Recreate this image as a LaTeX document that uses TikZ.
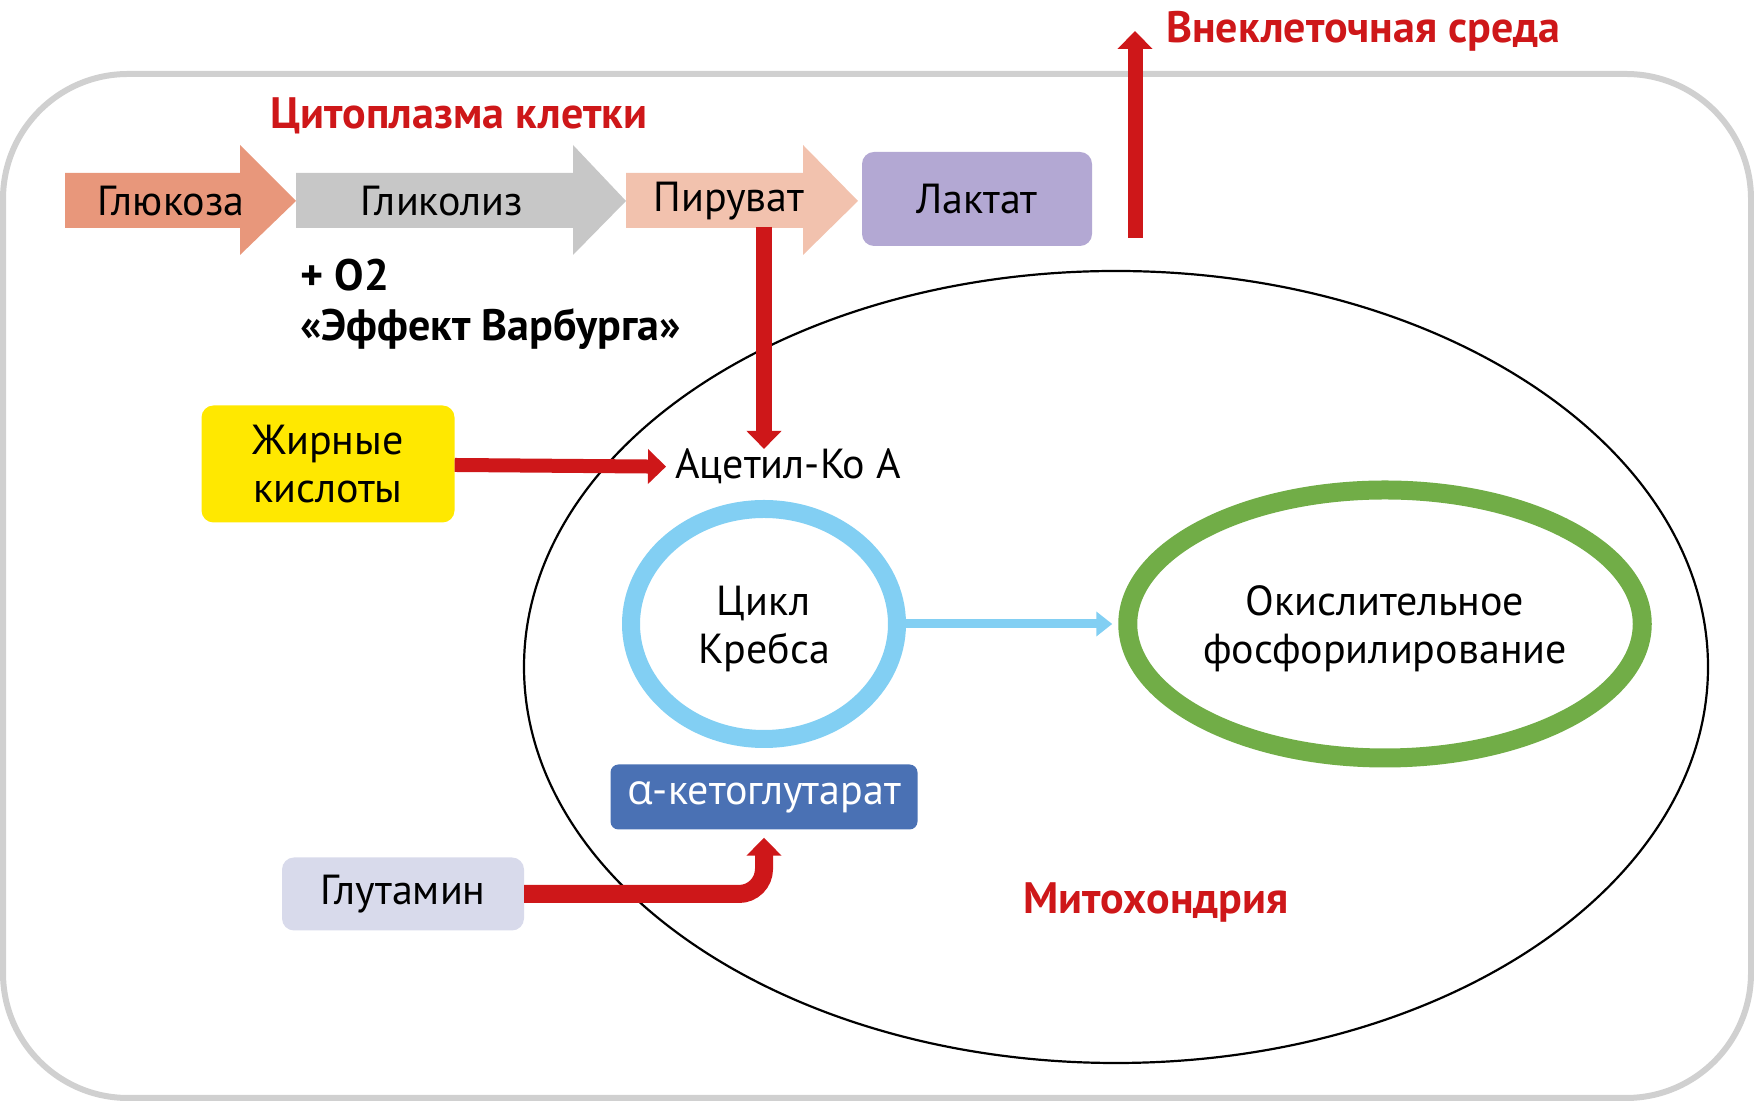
\documentclass[tikz,border=0pt]{standalone}
\usepackage{fontspec}
\setmainfont{PT Sans}
\newfontfamily\grkfont{Open Sans}
\usetikzlibrary{positioning}
\usetikzlibrary{shapes.geometric}
\usetikzlibrary{arrows.meta}
\definecolor{cellred}{HTML}{CE1719}
\definecolor{cellgray}{HTML}{D0D0D0}
\definecolor{glcol}{HTML}{E8977B}
\definecolor{glycol}{HTML}{C7C7C7}
\definecolor{pyrcol}{HTML}{F2C2AE}
\definecolor{laccol}{HTML}{B3A8D3}
\definecolor{fatcol}{HTML}{FFE800}
\definecolor{krebscol}{HTML}{82CFF3}
\definecolor{oxcol}{HTML}{71AD47}
\definecolor{kgcol}{HTML}{4A71B4}
\definecolor{glutcol}{HTML}{D8DAEB}
\tikzset{
	txt/.style={inner sep=0pt,align=center,font=\fontsize{42}{48}\selectfont},
	box/.style={txt,rounded corners=12pt},
	title/.style={inner sep=0pt,text=cellred,font=\fontsize{44}{50}\selectfont\bfseries},
	redarrow/.style={draw=cellred,line width=16pt,-{Triangle[length=18pt,width=34pt]}},
	bluearrow/.style={draw=krebscol,line width=9pt,-{Triangle[length=16pt,width=24pt]}},
}
\begin{document}
\begin{tikzpicture}[x=1pt,y=1pt]
	\useasboundingbox (0,0) rectangle (1754,1102);
	\draw[cellgray,line width=6pt,rounded corners=125pt] (3,4) rectangle (1751,1028);
	\node[ellipse,draw,line width=2.2pt,minimum width=1184pt,minimum height=792pt] (mito) at (1116,435) {};
	
	\fill[glcol] (65,874) -- (240,874) -- (240,847) -- (296,901) -- (240,957) -- (240,929) -- (65,929) -- cycle;
	\fill[glycol] (296,874) -- (573,874) -- (573,847) -- (626,901) -- (573,957) -- (573,929) -- (296,929) -- cycle;
	\fill[pyrcol] (626,874) -- (803,874) -- (803,847) -- (858,901) -- (803,957) -- (803,929) -- (626,929) -- cycle;
	\node[txt] (glc) at (171,901) {Глюкоза};
	\node[txt] (glyc) at (442,901) {Гликолиз};
	\node[txt] (pyr) at (729,901) {Пируват};
	\node[box,fill=laccol,minimum width=230pt,minimum height=94pt] (lac) at (977,903) {Лактат};
	
	\node[title] (cyto) at (459,986) {Цитоплазма клетки};
	\node[title,anchor=west] (ecm) at (1166,1071) {Внеклеточная среда};
	\node[txt,font=\fontsize{44}{50}\selectfont\bfseries,align=left,anchor=west] (warb) at (300,798) {+ O2\\«Эффект Варбурга»};
	\coordinate (lacb) at (1135,864);
	\draw[redarrow,line width=15pt] (lacb) -- (lacb |- ecm);
	
	\node[txt,anchor=base west] (acetyl) at (675,623) {Ацетил-Ко А};
	\coordinate (pyrb) at (764,875);
	\draw[redarrow] (pyrb) -- (pyrb |- acetyl.north);
	\node[box,fill=fatcol,minimum width=253pt,minimum height=117pt] (fat) at (328,638) {Жирные\\кислоты};
	\draw[redarrow,line width=14pt,shorten >=9pt] (fat) -- (acetyl.west);
	
	\node[ellipse,draw=krebscol,line width=18pt,minimum width=266pt,minimum height=230pt,txt] (krebs) at (764,478) {\rule{0pt}{39pt}Цикл\\Кребса};
	\node[ellipse,draw=oxcol,line width=19pt,minimum width=510pt,minimum height=268pt,txt] (oxphos) at (1385,478) {\rule{0pt}{39pt}Окислительное\\фосфорилирование};
	\draw[bluearrow,shorten >=6pt] (krebs) -- (oxphos);
	
	\node[box,fill=kgcol,text=white,rounded corners=8pt,minimum width=307pt,minimum height=65pt] (kg) at (764,305) {{\grkfont α}-кетоглутарат};
	\node[box,fill=glutcol,minimum width=242pt,minimum height=73pt] (glut) at (403,208) {Глутамин};
	\draw[redarrow,line width=18pt,rounded corners=25pt] (glut) -| ([yshift=-8pt]kg.south);
	\node[title] (mitolab) at (1156,199) {Митохондрия};
\end{tikzpicture}
\end{document}
